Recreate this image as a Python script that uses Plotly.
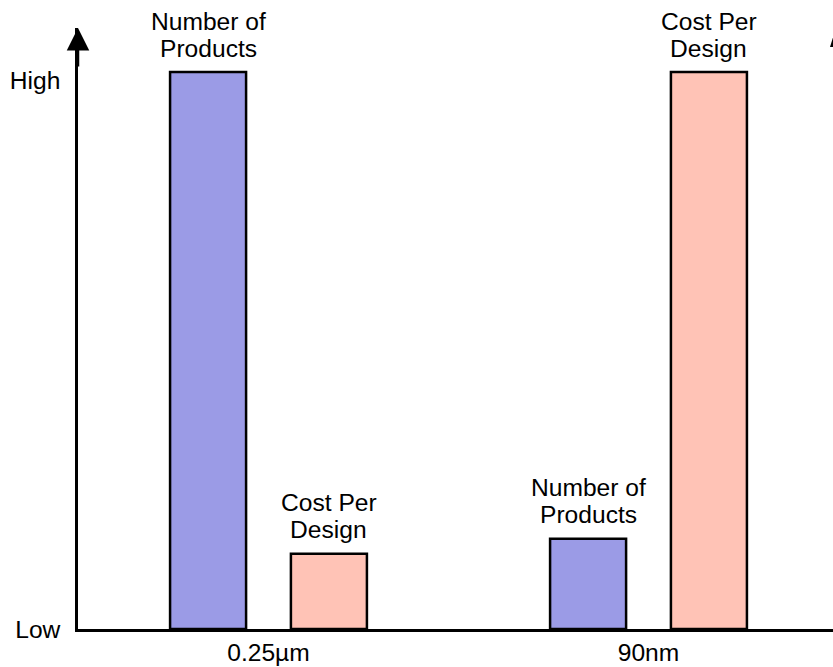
import plotly.graph_objects as go

# Process nodes on the horizontal axis
nodes = ["0.25µm", "90nm"]

# Relative levels (0 = Low, 10 = High)
number_of_products = [10.0, 1.62]
cost_per_design = [1.35, 10.0]

# Vertical axis tick labels
level_ticks = [0, 9.85]
level_labels = ["Low", "High"]

series = [
    ("Number of", "Products", number_of_products, "#9b9be6"),
    ("Cost Per", "Design", cost_per_design, "#ffc3b6"),
]

FONT = "Arial, Liberation Sans, sans-serif"
FONT_SIZE = 24.6
BARGAP = 0.364
BARGROUPGAP = 0.371
W, H = 833, 667
MARGIN = dict(l=78, r=0, t=28, b=38)

fig = go.Figure()
for line1, line2, vals, color in series:
    fig.add_trace(go.Bar(
        x=nodes, y=vals, name=f"{line1} {line2}",
        marker=dict(color=color, line=dict(color="black", width=2.5)),
        showlegend=False, hoverinfo="skip",
    ))

# Two-line captions above each bar
slot = (1 - BARGAP) / len(series)
annotations = []
for k, (line1, line2, vals, _) in enumerate(series):
    offset = (k - (len(series) - 1) / 2) * slot
    for i, v in enumerate(vals):
        for text, shift in ((line2, 24), (line1, 51)):
            annotations.append(dict(
                x=i + offset, y=v, xref="x", yref="y", text=text,
                showarrow=False, yanchor="middle", yshift=shift,
                font=dict(family=FONT, size=FONT_SIZE, color="black"),
            ))

# Arrow head on top of the vertical axis
annotations.append(dict(
    x=0, y=1, xref="paper", yref="paper", ax=0, ay=40,
    showarrow=True, arrowhead=2, arrowsize=1.8, arrowwidth=2.5,
    arrowcolor="black", text="",
))

# Neighbouring arrow head that sits just past the right edge of the figure
plot_w = W - MARGIN["l"] - MARGIN["r"]
plot_h = H - MARGIN["t"] - MARGIN["b"]
def px_to_paper(px, py):
    return (px - MARGIN["l"]) / plot_w, 1 - (py - MARGIN["t"]) / plot_h

tip = px_to_paper(836, 28)
left = px_to_paper(830, 47)
right = px_to_paper(842, 47)
edge_head = dict(
    type="path", xref="paper", yref="paper",
    path=f"M {tip[0]},{tip[1]} L {left[0]},{left[1]} L {right[0]},{right[1]} Z",
    fillcolor="black", line=dict(width=0),
)

fig.update_layout(
    width=W, height=H,
    margin=MARGIN,
    paper_bgcolor="white", plot_bgcolor="white",
    barmode="group", bargap=BARGAP, bargroupgap=BARGROUPGAP,
    font=dict(family=FONT, size=FONT_SIZE, color="black"),
    annotations=annotations,
    shapes=[edge_head],
    xaxis=dict(
        range=[-0.5013, 1.4855], showgrid=False, zeroline=False,
        showline=True, linecolor="black", linewidth=2.5, automargin=False,
        ticks="", tickfont=dict(size=FONT_SIZE), ticklabelstandoff=0,
    ),
    yaxis=dict(
        range=[0, 10.79], showgrid=False, zeroline=False,
        showline=True, linecolor="black", linewidth=2.5, automargin=False,
        ticks="", tickvals=level_ticks, ticktext=level_labels,
        tickfont=dict(size=FONT_SIZE), ticklabelstandoff=10,
    ),
)

fig.write_html("out.html")
